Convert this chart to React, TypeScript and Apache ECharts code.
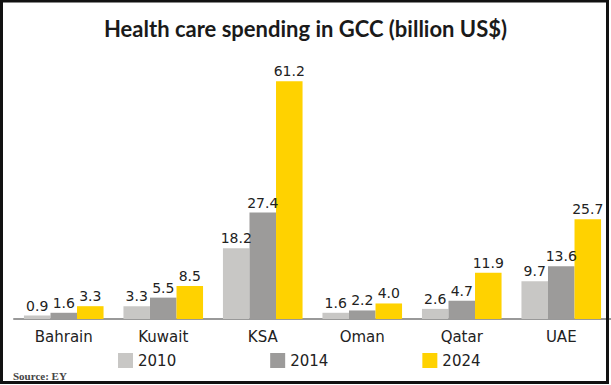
import React, { useEffect, useRef } from "react";
import * as echarts from "echarts";

const categories = ["Bahrain", "Kuwait", "KSA", "Oman", "Qatar", "UAE"];
const seriesNames = ["2010", "2014", "2024"];
const values2010 = [0.9, 3.3, 18.2, 1.6, 2.6, 9.7];
const values2014 = [1.6, 5.5, 27.4, 2.2, 4.7, 13.6];
const values2024 = [3.3, 8.5, 61.2, 4.0, 11.9, 25.7];
const colors = ["#c8c7c5", "#9c9b9a", "#ffd200"];

export default function App() {
  const ref = useRef<HTMLDivElement>(null);
  useEffect(() => {
    document.body.style.margin = "0";
    const chart = echarts.init(ref.current!, null, { renderer: "svg" });
    const all = [values2010, values2014, values2024];
    chart.setOption({
      animation: false,
      backgroundColor: "#ffffff",
      title: {
        text: "Health care spending in GCC (billion US$)",
        left: "center",
        top: 12,
        textStyle: {
          fontFamily: "Lato",
          fontWeight: "bold",
          fontSize: 22,
          color: "#1a1a1a",
        },
      },
      legend: {
        left: 113,
        top: 348,
        itemWidth: 15,
        itemHeight: 15,
        itemGap: 94,
        icon: "rect",
        textStyle: { fontFamily: "DejaVu Sans", fontSize: 15, color: "#222" },
        data: seriesNames,
      },
      grid: { left: 14, width: 602, top: 47, height: 272 },
      xAxis: {
        type: "category",
        data: categories,
        axisLine: { lineStyle: { color: "#999", width: 2 } },
        axisTick: { show: false },
        axisLabel: {
          fontFamily: "DejaVu Sans",
          fontSize: 15,
          color: "#222",
          margin: 10,
        },
      },
      yAxis: { type: "value", min: 0, max: 70, show: false, splitLine: { show: false } },
      series: all.map((d, i) => ({
        name: seriesNames[i],
        type: "bar",
        data: d,
        barGap: "0%",
        barCategoryGap: "20%",
        itemStyle: { color: colors[i] },
        label: {
          show: true,
          position: "top",
          distance: 3,
          fontFamily: "DejaVu Sans",
          fontSize: 14,
          color: "#222",
          formatter: (p: any) => Number(p.value).toFixed(1),
        },
      })),
      graphic: [
        {
          type: "text",
          left: 13,
          top: 370,
          style: {
            text: "Source: EY",
            font: "bold 11px 'Liberation Serif'",
            fill: "#444",
          },
        },
        {
          type: "rect",
          shape: { x: 1.5, y: 1, width: 606, height: 381.5 },
          style: { fill: "none", stroke: "#111", lineWidth: 3 },
          z: 100,
        },
      ],
    });
    return () => chart.dispose();
  }, []);
  return <div ref={ref} style={{ width: 611, height: 385 }} />;
}
